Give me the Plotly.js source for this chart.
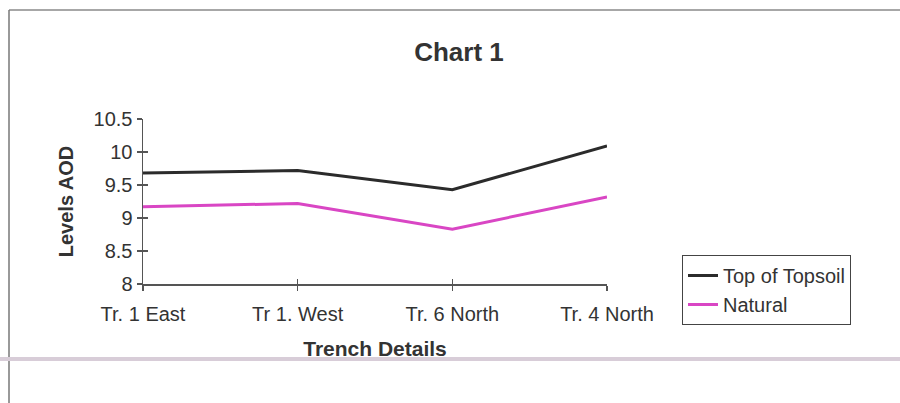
<!DOCTYPE html>
<html>
<head>
<meta charset="utf-8">
<script src="https://cdn.plot.ly/plotly-3.0.1.min.js"></script>
<style>html,body{margin:0;padding:0;background:#fff;}#chart{width:900px;height:403px;}</style>
</head>
<body>
<div id="chart"></div>
<script>
const categories = ["Tr. 1 East", "Tr 1. West", "Tr. 6 North", "Tr. 4 North"];
const topOfTopsoil = [9.68, 9.72, 9.43, 10.09];
const natural = [9.17, 9.22, 8.83, 9.32];
const seriesNames = ["Top of Topsoil", "Natural"];
const yTicks = [8, 8.5, 9, 9.5, 10, 10.5];

const FONT = "Liberation Sans, Arial, sans-serif";
const TXT = "#333333";

const traces = [
  {x: categories, y: topOfTopsoil, name: seriesNames[0], type: "scatter", mode: "lines",
   line: {color: "#2b2b2b", width: 3}},
  {x: categories, y: natural, name: seriesNames[1], type: "scatter", mode: "lines",
   line: {color: "#d946c4", width: 3}},
  {x: categories, y: natural, xaxis: "x2", yaxis: "y2", type: "scatter", mode: "lines",
   line: {width: 0}, opacity: 0, showlegend: false, hoverinfo: "skip"}
];

const px = (v) => (v - 143) / 464;
const py = (v) => (284 - v) / 165;

const layout = {
  width: 900, height: 403,
  paper_bgcolor: "#ffffff", plot_bgcolor: "#ffffff",
  margin: {l: 143, r: 293, t: 119, b: 119},
  font: {family: FONT, color: TXT, size: 20},
  title: {text: "<b>Chart 1</b>", font: {family: FONT, size: 26, color: "#333"},
          x: 0.51, xref: "container", xanchor: "center", y: 0.871, yref: "container", yanchor: "middle"},
  xaxis: {type: "category", categoryorder: "array", categoryarray: categories,
          range: [0, 3], showgrid: false, zeroline: false,
          showline: true, linecolor: "#555", linewidth: 1.5,
          ticks: "outside", ticklen: 5, tickcolor: "#555", tickwidth: 1.5,
          ticklabelstandoff: 6,
          tickfont: {family: FONT, size: 20, color: TXT},
          title: {text: "<b>Trench Details</b>", font: {family: FONT, size: 21, color: "#333"}, standoff: 18}},
  yaxis: {range: [8, 10.5], tickvals: yTicks, showgrid: false, zeroline: false,
          showline: true, linecolor: "#555", linewidth: 1.5,
          ticks: "outside", ticklen: 5, tickcolor: "#555", tickwidth: 1.5,
          tickfont: {family: FONT, size: 20, color: TXT},
          title: {text: "<b>Levels AOD</b>", font: {family: FONT, size: 20, color: "#333"}, standoff: 14}},
  xaxis2: {type: "category", categoryorder: "array", categoryarray: categories, range: [0, 3],
           overlaying: "x", anchor: "y2", showgrid: false, zeroline: false, showline: false,
           ticks: "inside", ticklen: 5, tickcolor: "#555", tickwidth: 1.5, showticklabels: false},
  yaxis2: {range: [8, 10.5], tickvals: yTicks, overlaying: "y", anchor: "x2", showgrid: false,
           zeroline: false, showline: false,
           ticks: "inside", ticklen: 5, tickcolor: "#555", tickwidth: 1.5, showticklabels: false},
  showlegend: true,
  legend: {x: px(682), y: py(255), xanchor: "left", yanchor: "top",
           bordercolor: "#444", borderwidth: 1, bgcolor: "#fff",
           font: {family: FONT, size: 20, color: TXT}, tracegroupgap: 0},
  shapes: [
    {type: "line", xref: "paper", yref: "paper", x0: px(9), x1: px(900), y0: py(10), y1: py(10),
     line: {color: "#8a8a8a", width: 1.5}},
    {type: "line", xref: "paper", yref: "paper", x0: px(9), x1: px(9), y0: py(10), y1: py(403),
     line: {color: "#777", width: 1.5}},
    {type: "line", xref: "paper", yref: "paper", x0: px(0), x1: px(900), y0: py(359), y1: py(359),
     line: {color: "#d8cdd8", width: 4}}
  ]
};

Plotly.newPlot("chart", traces, layout, {displayModeBar: false, staticPlot: true});
</script>
</body>
</html>
